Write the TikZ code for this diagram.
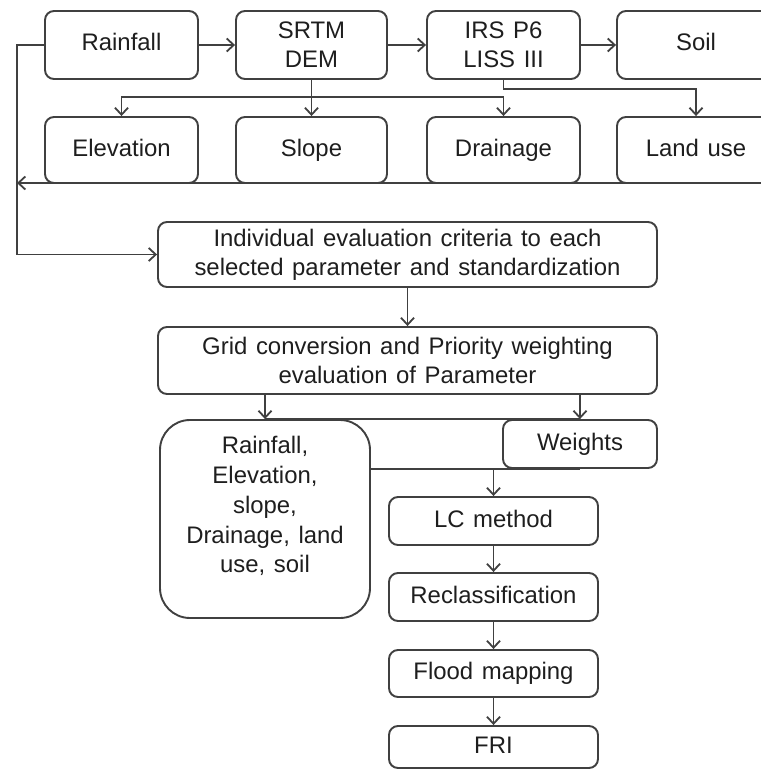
\documentclass[tikz,border=0pt]{standalone}
\usepackage{fontspec}
\setmainfont{Liberation Sans}
\usetikzlibrary{arrows.meta}
\definecolor{ln}{HTML}{404040}
\definecolor{tx}{HTML}{1E1E1E}
\newcommand\myfnt{\fontsize{24}{29}\selectfont\spaceskip=0.36em plus 0.1em\relax}
\newcommand\myfntb{\fontsize{24}{30}\selectfont\spaceskip=0.36em plus 0.1em\relax}
\tikzset{
  box/.style={draw=ln, line width=1.9bp, rounded corners=9bp, inner sep=0pt, align=center,
    text=tx, font=\myfnt},
  one/.style={text height=17bp, text depth=5bp},
  arr/.style={draw=ln, line width=1.8bp, -{Straight Barb[length=7bp,width=13bp]}},
  ln/.style={draw=ln, line width=1.8bp}
}
\begin{document}
\begin{tikzpicture}[x=1bp,y=-1bp]
\useasboundingbox (0,0) rectangle (761,772);
\clip (0,0) rectangle (761,772);
\fill[white] (0,0) rectangle (761,772);
% top row
\node[box, one, minimum width=153bp, minimum height=68bp] (rain) at (121.5,45) {Rainfall};
\node[box, minimum width=151bp, minimum height=68bp] (srtm) at (311.5,45) {SRTM\\DEM};
\node[box, minimum width=153bp, minimum height=68bp] (irs) at (503.5,45) {IRS P6\\LISS III};
\node[box, one, minimum width=158bp, minimum height=68bp] (soil) at (696,45) {Soil};
% second row
\node[box, one, minimum width=153bp, minimum height=66bp] (elev) at (121.5,150) {Elevation};
\node[box, one, minimum width=151bp, minimum height=66bp] (slope) at (311.5,150) {Slope};
\node[box, one, minimum width=153bp, minimum height=66bp] (drain) at (503.5,150) {Drainage};
\node[box, one, minimum width=158bp, minimum height=66bp] (land) at (696,150) {Land use};
% middle
\node[box, minimum width=499bp, minimum height=65bp] (indiv) at (407.5,254.5) {Individual evaluation criteria to each\\selected parameter and standardization};
\node[box, minimum width=499bp, minimum height=67bp] (grid) at (407.5,360.5) {Grid conversion and Priority weighting\\evaluation of Parameter};
% lower
\node[box, rounded corners=30bp, minimum width=210bp, minimum height=198bp] (big) at (265,519) {};
\node[align=center, text=tx, font=\myfntb] (bigtxt) at (265,506) {Rainfall,\\Elevation,\\slope,\\Drainage, land\\use, soil};
\node[box, one, minimum width=154bp, minimum height=48bp] (wts) at (580,444) {Weights};
\node[box, one, minimum width=209bp, minimum height=48bp] (lc) at (493.5,521) {LC method};
\node[box, one, minimum width=209bp, minimum height=48bp] (recl) at (493.5,597) {Reclassification};
\node[box, one, minimum width=209bp, minimum height=47bp] (flood) at (493.5,673.5) {Flood mapping};
\node[box, one, minimum width=209bp, minimum height=42bp] (fri) at (493.5,747) {FRI};
% coordinates
\coordinate (j1) at (311.5,97);
\coordinate (lft) at (17,254.5);
\coordinate (rend) at (761,183);
\coordinate (lb) at (17,183);
% connectors top
\draw[arr] (rain) -- (srtm);
\draw[arr] (srtm) -- (irs);
\draw[arr] (irs) -- (soil);
\draw[arr] (srtm.south) -- (slope.north);
\draw[arr] (j1) -| (elev.north);
\draw[arr] (j1) -| (drain.north);
\draw[arr] (irs.south) -- ++(0,9) -| (land.north);
\draw[arr] (rend) -- (lb);
\draw[arr] (rain.west) -| (lft) -- (indiv.west);
% middle
\draw[arr] (indiv.south) -- (grid.north);
\draw[arr] (grid.south -| big.north) -- (big.north);
\draw[arr] (grid.south -| wts.north) -- (wts.north);
\draw[ln] (big.north) -- (wts.north);
\draw[ln] (big.east |- wts.south) -- (wts.south);
\draw[arr] (lc.north |- wts.south) -- (lc.north);
\draw[arr] (lc) -- (recl);
\draw[arr] (recl) -- (flood);
\draw[arr] (flood) -- (fri);
\end{tikzpicture}
\end{document}
